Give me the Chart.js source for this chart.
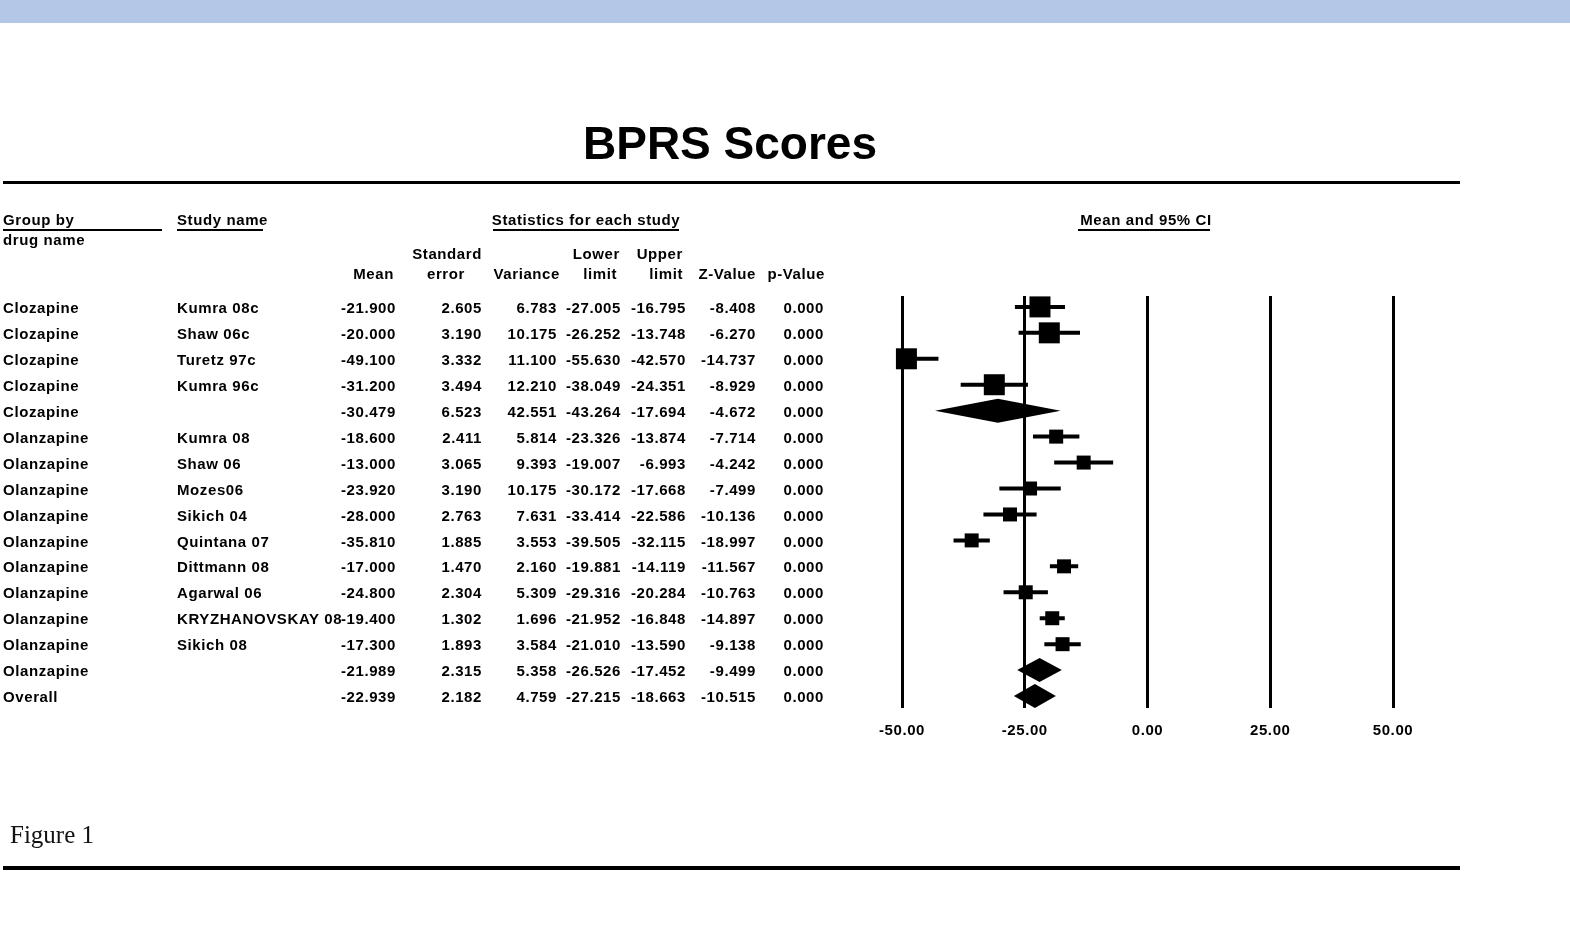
<!DOCTYPE html>
<html>
<head>
<meta charset="utf-8">
<script src="https://cdn.jsdelivr.net/npm/chart.js@4.4.1/dist/chart.umd.min.js"></script>
<style>
html,body{margin:0;padding:0;background:#fff;}
#wrap{position:relative;width:1570px;height:934px;}
</style>
</head>
<body>
<div id="wrap"><canvas id="c"></canvas></div>
<script>
// ---------- data ----------
const groupNames = ['Clozapine','Clozapine','Clozapine','Clozapine','Clozapine',
  'Olanzapine','Olanzapine','Olanzapine','Olanzapine','Olanzapine','Olanzapine','Olanzapine','Olanzapine','Olanzapine','Olanzapine','Overall'];
const studyNames = ['Kumra 08c','Shaw 06c','Turetz 97c','Kumra 96c','',
  'Kumra 08','Shaw 06','Mozes06','Sikich 04','Quintana 07','Dittmann 08','Agarwal 06','KRYZHANOVSKAY 08','Sikich 08','',''];
const means = [-21.900,-20.000,-49.100,-31.200,-30.479,-18.600,-13.000,-23.920,-28.000,-35.810,-17.000,-24.800,-19.400,-17.300,-21.989,-22.939];
const stdErrors = [2.605,3.190,3.332,3.494,6.523,2.411,3.065,3.190,2.763,1.885,1.470,2.304,1.302,1.893,2.315,2.182];
const variances = [6.783,10.175,11.100,12.210,42.551,5.814,9.393,10.175,7.631,3.553,2.160,5.309,1.696,3.584,5.358,4.759];
const lowerLimits = [-27.005,-26.252,-55.630,-38.049,-43.264,-23.326,-19.007,-30.172,-33.414,-39.505,-19.881,-29.316,-21.952,-21.010,-26.526,-27.215];
const upperLimits = [-16.795,-13.748,-42.570,-24.351,-17.694,-13.874,-6.993,-17.668,-22.586,-32.115,-14.119,-20.284,-16.848,-13.590,-17.452,-18.663];
const zValues = [-8.408,-6.270,-14.737,-8.929,-4.672,-7.714,-4.242,-7.499,-10.136,-18.997,-11.567,-10.763,-14.897,-9.138,-9.499,-10.515];
const pValues = [0,0,0,0,0,0,0,0,0,0,0,0,0,0,0,0];
// relative weights (%) within each drug group
const studyWeights = [25,25,25,25,null,11.1,11.1,11.1,11.1,11.1,11.1,11.1,11.1,11.1,null,null];
const xTicks = [-50,-25,0,25,50];

const FONT = '"Liberation Sans", Arial, sans-serif';
const rowIdx = means.map((_, i) => i);
const isStudy = i => studyNames[i] !== '';
const TY = 2; // text vertical nudge

const whiskerData = [];
rowIdx.filter(isStudy).forEach(i => {
  whiskerData.push({x: lowerLimits[i], y: i}, {x: upperLimits[i], y: i}, {x: null, y: null});
});
const squareData = rowIdx.filter(isStudy).map(i => ({x: means[i], y: i, w: studyWeights[i]}));

// ---------- plugins ----------
const decorPlugin = {
  id: 'decor',
  beforeDraw(chart) {
    const ctx = chart.ctx;
    ctx.letterSpacing = '0.6px';
    ctx.save();
    ctx.fillStyle = '#b4c7e7';
    ctx.fillRect(0, 0, chart.width, 23);
    ctx.restore();
  },
  afterDatasetsDraw(chart) {
    const ctx = chart.ctx, xs = chart.scales.x, ys = chart.scales.y;
    ctx.save();
    ctx.fillStyle = '#000';
    rowIdx.filter(i => !isStudy(i)).forEach(i => {
      const y = ys.getPixelForValue(i);
      const h = 12;
      ctx.beginPath();
      ctx.moveTo(xs.getPixelForValue(lowerLimits[i]), y);
      ctx.lineTo(xs.getPixelForValue(means[i]), y - h);
      ctx.lineTo(xs.getPixelForValue(upperLimits[i]), y);
      ctx.lineTo(xs.getPixelForValue(means[i]), y + h);
      ctx.closePath();
      ctx.fill();
    });
    ctx.restore();
  },
  afterDraw(chart) {
    const ctx = chart.ctx, ys = chart.scales.y;
    ctx.save();
    ctx.fillStyle = '#000';
    ctx.strokeStyle = '#000';
    // title
    ctx.letterSpacing = '0px';
    ctx.font = 'bold 46px ' + FONT;
    ctx.textAlign = 'center';
    ctx.textBaseline = 'middle';
    ctx.fillText('BPRS Scores', 730, 146);
    // rules
    ctx.fillRect(3, 181, 1457, 3);
    ctx.fillRect(3, 866, 1457, 4);
    // Figure caption
    ctx.font = '25px "Liberation Serif", "Times New Roman", serif';
    ctx.textAlign = 'left';
    ctx.fillStyle = '#111';
    ctx.fillText('Figure 1', 10, 836);
    ctx.fillStyle = '#000';

    // headers
    ctx.letterSpacing = '0.6px';
    ctx.font = 'bold 15px ' + FONT;
    ctx.textAlign = 'left';
    ctx.fillText('Group by', 3, 219 + TY);
    ctx.fillText('drug name', 3, 239 + TY);
    ctx.fillText('Study name', 177, 219 + TY);
    ctx.textAlign = 'center';
    ctx.fillText('Statistics for each study', 586, 219 + TY);
    ctx.fillText('Mean and 95% CI', 1146, 219 + TY);
    ctx.fillRect(3, 229, 159, 2);
    ctx.fillRect(177, 229, 86, 2);
    ctx.fillRect(493, 229, 186, 2);
    ctx.fillRect(1078, 229, 132, 2);
    ctx.textAlign = 'right';
    ctx.fillText('Standard', 482, 253 + TY);
    ctx.fillText('Lower', 620, 253 + TY);
    ctx.fillText('Upper', 683, 253 + TY);
    ctx.fillText('Mean', 394, 273 + TY);
    ctx.fillText('Variance', 560, 273 + TY);
    ctx.fillText('limit', 617, 273 + TY);
    ctx.fillText('limit', 683, 273 + TY);
    ctx.fillText('Z-Value', 756, 273 + TY);
    ctx.fillText('p-Value', 825, 273 + TY);
    ctx.textAlign = 'center';
    ctx.fillText('error', 446, 273 + TY);

    // rows
    const cols = [
      [means, 396], [stdErrors, 482], [variances, 557], [lowerLimits, 621],
      [upperLimits, 686], [zValues, 756], [pValues, 824]
    ];
    rowIdx.forEach(i => {
      const y = ys.getPixelForValue(i) + TY;
      ctx.textAlign = 'left';
      ctx.fillText(groupNames[i], 3, y);
      if (studyNames[i]) ctx.fillText(studyNames[i], 177, y);
      ctx.textAlign = 'right';
      cols.forEach(([arr, xr]) => ctx.fillText(arr[i].toFixed(3), xr, y));
    });
    ctx.restore();
  }
};

new Chart(document.getElementById('c'), {
  type: 'scatter',
  data: {
    datasets: [
      {
        label: 'means',
        data: squareData,
        pointStyle: 'rect',
        backgroundColor: '#000',
        borderWidth: 0,
        pointRadius: c => { const w = c.raw && c.raw.w; return w ? (4.2 * Math.sqrt(w)) / 1.4142 : 0; },
        pointHoverRadius: c => { const w = c.raw && c.raw.w; return w ? (4.2 * Math.sqrt(w)) / 1.4142 : 0; },
        clip: false,
        order: 0
      },
      {
        label: 'ci',
        data: whiskerData,
        showLine: true,
        spanGaps: false,
        borderColor: '#000',
        borderWidth: 4,
        pointRadius: 0,
        pointHoverRadius: 0,
        order: 1
      }
    ]
  },
  options: {
    responsive: true,
    maintainAspectRatio: false,
    animation: false,
    events: [],
    layout: { padding: { left: 902, right: 177, top: 296, bottom: 186 } },
    plugins: { legend: { display: false }, tooltip: { enabled: false }, title: { display: false } },
    scales: {
      x: {
        type: 'linear',
        min: -50, max: 50,
        afterBuildTicks: s => { s.ticks = xTicks.map(v => ({ value: v })); },
        afterFit: s => { s.height = 40; },
        border: { display: false },
        grid: { color: '#000', lineWidth: 3, drawTicks: false },
        ticks: {
          padding: 14, color: '#000', maxRotation: 0, autoSkip: false,
          font: { family: FONT, size: 15, weight: 'bold' },
          callback: v => Number(v).toFixed(2)
        }
      },
      y: { type: 'linear', min: -0.42, max: 15.46, reverse: true, display: false }
    }
  },
  plugins: [decorPlugin]
});
</script>
</body>
</html>
